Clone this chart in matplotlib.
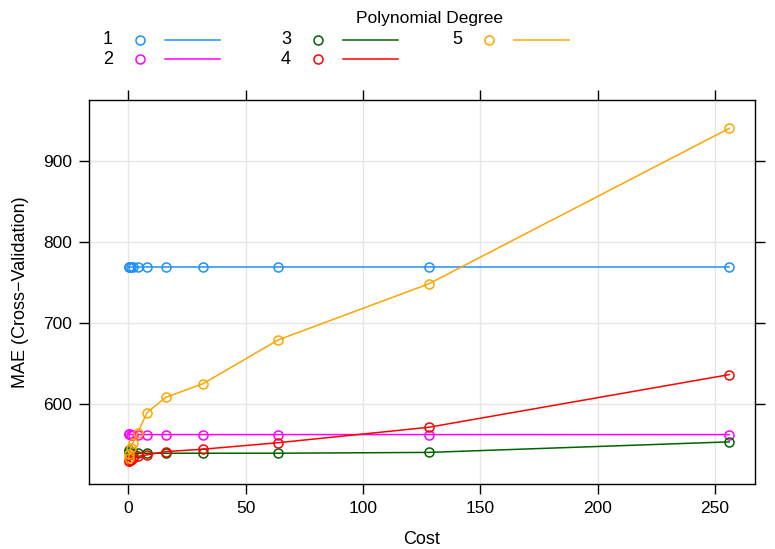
import numpy as np
import matplotlib.pyplot as plt
from matplotlib.lines import Line2D

plt.rcParams['font.family'] = ['Liberation Sans', 'DejaVu Sans']

cost = [0.25, 0.5, 1, 2, 4, 8, 16, 32, 64, 128, 256]
degrees = ['1', '2', '3', '4', '5']
mae = {
    '1': [769, 769, 769, 769, 769, 769, 769, 769, 769, 769, 769],
    '2': [563, 563, 562, 562, 562, 562, 562, 562, 562, 562, 562],
    '3': [543, 541, 540, 539, 539, 539, 539, 539, 539, 540, 553],
    '4': [530, 530, 531, 533, 535, 537, 541, 544, 552, 571, 636],
    '5': [533, 538, 545, 552, 564, 589, 608, 625, 679, 748, 940],
}
colors = ['#1E90FF', '#FF00FF', '#006400', '#FF0000', '#FFA500']

W, H = 775, 549
fig = plt.figure(figsize=(7.75, 5.49), dpi=100)
ax = fig.add_axes([89 / W, 1 - 484 / H, 666 / W, 384 / H])

ax.grid(True, color='#E6E6E6', lw=1)
ax.set_axisbelow(True)
for d, c in zip(degrees, colors):
    ax.plot(cost, mae[d], color=c, lw=1.1, marker='o', ms=6.5,
            mfc='none', mec=c, mew=1.1)

ax.set_xlim(-16.7, 267)
ax.set_ylim(501, 975)
ax.set_xticks([0, 50, 100, 150, 200, 250])
ax.set_yticks([600, 700, 800, 900])
ax.tick_params(direction='out', length=7, width=1, labelsize=12.5, pad=5,
               top=True, right=True, color='black')
for s in ax.spines.values():
    s.set_linewidth(1)
ax.set_xlabel('Cost', fontsize=13, labelpad=11)
ax.set_ylabel('MAE (Cross\u2212Validation)', fontsize=13, labelpad=10)

# legend in lattice key style
fig.text(430 / W, 1 - 18 / H, 'Polynomial Degree', ha='center', va='center', fontsize=12.5)
key_pos = [(103, 40), (103, 59), (281, 40), (281, 59), (452, 40)]
for d, c, (x, y) in zip(degrees, colors, key_pos):
    fig.text(x / W, 1 - y / H, d, ha='left', va='center', fontsize=13)
    fig.add_artist(Line2D([(x + 37) / W], [1 - y / H], marker='o', ms=6.5,
                          mfc='none', mec=c, mew=1.1, transform=fig.transFigure))
    fig.add_artist(Line2D([(x + 62) / W, (x + 117) / W], [1 - y / H, 1 - y / H],
                          color=c, lw=1.1, transform=fig.transFigure))

fig.savefig('out.png', dpi=100)
